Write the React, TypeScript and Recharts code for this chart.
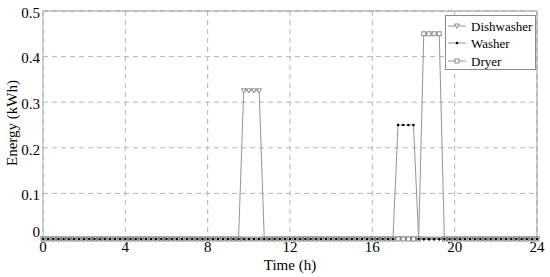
import React from 'react';
import { LineChart, Line, XAxis, YAxis, CartesianGrid, Legend, ReferenceLine } from 'recharts';

const hours = [
  0, 0.25, 0.5, 0.75, 1, 1.25, 1.5, 1.75,
  2, 2.25, 2.5, 2.75, 3, 3.25, 3.5, 3.75,
  4, 4.25, 4.5, 4.75, 5, 5.25, 5.5, 5.75,
  6, 6.25, 6.5, 6.75, 7, 7.25, 7.5, 7.75,
  8, 8.25, 8.5, 8.75, 9, 9.25, 9.5, 9.75,
  10, 10.25, 10.5, 10.75, 11, 11.25, 11.5, 11.75,
  12, 12.25, 12.5, 12.75, 13, 13.25, 13.5, 13.75,
  14, 14.25, 14.5, 14.75, 15, 15.25, 15.5, 15.75,
  16, 16.25, 16.5, 16.75, 17, 17.25, 17.5, 17.75,
  18, 18.25, 18.5, 18.75, 19, 19.25, 19.5, 19.75,
  20, 20.25, 20.5, 20.75, 21, 21.25, 21.5, 21.75,
  22, 22.25, 22.5, 22.75, 23, 23.25, 23.5, 23.75,
  24,
];

const dishwasher = [
  0, 0, 0, 0, 0, 0, 0, 0,
  0, 0, 0, 0, 0, 0, 0, 0,
  0, 0, 0, 0, 0, 0, 0, 0,
  0, 0, 0, 0, 0, 0, 0, 0,
  0, 0, 0, 0, 0, 0, 0, 0.325,
  0.325, 0.325, 0.325, 0, 0, 0, 0, 0,
  0, 0, 0, 0, 0, 0, 0, 0,
  0, 0, 0, 0, 0, 0, 0, 0,
  0, 0, 0, 0, 0, 0, 0, 0,
  0, 0, 0, 0, 0, 0, 0, 0,
  0, 0, 0, 0, 0, 0, 0, 0,
  0, 0, 0, 0, 0, 0, 0, 0,
  0,
];

const washer = [
  0, 0, 0, 0, 0, 0, 0, 0,
  0, 0, 0, 0, 0, 0, 0, 0,
  0, 0, 0, 0, 0, 0, 0, 0,
  0, 0, 0, 0, 0, 0, 0, 0,
  0, 0, 0, 0, 0, 0, 0, 0,
  0, 0, 0, 0, 0, 0, 0, 0,
  0, 0, 0, 0, 0, 0, 0, 0,
  0, 0, 0, 0, 0, 0, 0, 0,
  0, 0, 0, 0, 0, 0.25, 0.25, 0.25,
  0.25, 0, 0, 0, 0, 0, 0, 0,
  0, 0, 0, 0, 0, 0, 0, 0,
  0, 0, 0, 0, 0, 0, 0, 0,
  0,
];

const dryer = [
  0, 0, 0, 0, 0, 0, 0, 0,
  0, 0, 0, 0, 0, 0, 0, 0,
  0, 0, 0, 0, 0, 0, 0, 0,
  0, 0, 0, 0, 0, 0, 0, 0,
  0, 0, 0, 0, 0, 0, 0, 0,
  0, 0, 0, 0, 0, 0, 0, 0,
  0, 0, 0, 0, 0, 0, 0, 0,
  0, 0, 0, 0, 0, 0, 0, 0,
  0, 0, 0, 0, 0, 0, 0, 0,
  0, 0, 0.45, 0.45, 0.45, 0.45, 0, 0,
  0, 0, 0, 0, 0, 0, 0, 0,
  0, 0, 0, 0, 0, 0, 0, 0,
  0,
];

const xTicks = [0, 4, 8, 12, 16, 20, 24];
const yTicks = [0, 0.1, 0.2, 0.3, 0.4, 0.5];
const seriesNames = ['Dishwasher', 'Washer', 'Dryer'];
const xLabel = 'Time (h)';
const yLabel = 'Energy (kWh)';

const data = hours.map((t, i) => ({
  t,
  dishwasher: dishwasher[i],
  washer: washer[i],
  dryer: dryer[i],
}));

const FONT = 'Liberation Serif';
const LINE = '#959595';
const MARK = '#707070';

const Tri = ({ cx, cy }: any) => (
  <path
    d={`M${cx - 2.4},${cy - 2} L${cx + 2.4},${cy - 2} L${cx},${cy + 2.2} Z`}
    fill="#fff"
    stroke={MARK}
    strokeWidth={0.8}
  />
);
const Sq = ({ cx, cy }: any) => (
  <rect x={cx - 2} y={cy - 2} width={4} height={4} fill="#fff" stroke={MARK} strokeWidth={0.8} />
);
const Dot = ({ cx, cy }: any) => <circle cx={cx} cy={cy} r={1.3} fill="#000" stroke="none" />;

const markers = [Tri, Dot, Sq];

const T = ({ children, ...rest }: any) => (
  <text fontFamily={FONT} style={{ fontFamily: FONT }} fill="#000" {...rest}>
    {children}
  </text>
);

const YTick = (props: any) => {
  const { x, y, payload } = props;
  const v = payload.value;
  return (
    <T x={x} y={v === 0 ? y - 7 : y + 1.5} dy="0.35em" textAnchor="end" fontSize={15}>
      {String(v)}
    </T>
  );
};

const XTick = (props: any) => {
  const { x, y, payload } = props;
  return (
    <T x={x} y={y} dy="0.71em" textAnchor="middle" fontSize={15}>
      {String(payload.value)}
    </T>
  );
};

const LegendBox = () => (
  <svg width={91} height={55} style={{ display: 'block', fontFamily: FONT }}>
    <rect x={0.5} y={0.5} width={90} height={54} fill="#fff" stroke="#8a8a8a" strokeWidth={1} />
    {seriesNames.map((name, i) => {
      const y = [11, 28, 46][i];
      const M = markers[i];
      return (
        <g key={name}>
          <line x1={3} x2={21} y1={y} y2={y} stroke={LINE} strokeWidth={1} />
          <M cx={12} cy={y} />
          <T x={26} y={y} dy="0.35em" fontSize={13}>
            {name}
          </T>
        </g>
      );
    })}
  </svg>
);

const YLabel = (props: any) => {
  const vb = props.viewBox || { x: 0, y: 11, width: 43, height: 228 };
  const cx = vb.x + 12;
  const cy = vb.y + vb.height / 2 - 2;
  return (
    <T x={cx} y={cy} transform={`rotate(-90 ${cx} ${cy})`} textAnchor="middle" dy="0.35em" fontSize={15}>
      {yLabel}
    </T>
  );
};

const XLabel = (props: any) => {
  const vb = props.viewBox || { x: 43, y: 239, width: 494, height: 38 };
  const cx = vb.x + vb.width / 2;
  const cy = vb.y + 26;
  return (
    <T x={cx} y={cy} dy="0.35em" textAnchor="middle" fontSize={15}>
      {xLabel}
    </T>
  );
};

export default function App() {
  return (
    <div style={{ position: 'absolute', left: 0, top: 0, width: 550, height: 277, background: '#fff', fontFamily: FONT }}>
      <LineChart
        width={550}
        height={277}
        data={data}
        margin={{ top: 11, right: 13, left: 0, bottom: 0 }}
        style={{ fontFamily: FONT }}
      >
        <CartesianGrid strokeDasharray="5 4" stroke="#b4b4b4" strokeWidth={1} />
        <XAxis
          dataKey="t"
          type="number"
          domain={[0, 24]}
          ticks={xTicks}
          interval={0}
          tickLine={false}
          tickSize={0}
          tickMargin={2}
          height={38}
          axisLine={{ stroke: '#999' }}
          tick={XTick}
          label={{ content: XLabel }}
        />
        <YAxis
          type="number"
          domain={[0, 0.5]}
          ticks={yTicks}
          interval={0}
          tickLine={false}
          tickSize={0}
          tickMargin={3}
          width={43}
          axisLine={{ stroke: '#aaa' }}
          tick={YTick}
          label={{ content: YLabel }}
        />
        <ReferenceLine y={0.5} stroke="#999" strokeWidth={1} />
        <ReferenceLine x={24} stroke="#999" strokeWidth={1} />
        <Line
          type="linear"
          dataKey="dishwasher"
          name={seriesNames[0]}
          stroke={LINE}
          strokeWidth={1}
          isAnimationActive={false}
          dot={(p: any) => <Tri key={`d${p.index}`} cx={p.cx} cy={p.cy} />}
          activeDot={false}
        />
        <Line
          type="linear"
          dataKey="dryer"
          name={seriesNames[2]}
          stroke={LINE}
          strokeWidth={1}
          isAnimationActive={false}
          dot={(p: any) => <Sq key={`s${p.index}`} cx={p.cx} cy={p.cy} />}
          activeDot={false}
        />
        <Line
          type="linear"
          dataKey="washer"
          name={seriesNames[1]}
          stroke={LINE}
          strokeWidth={1}
          isAnimationActive={false}
          dot={(p: any) => <Dot key={`w${p.index}`} cx={p.cx} cy={p.cy} />}
          activeDot={false}
        />
        <Legend
          layout="horizontal"
          verticalAlign="middle"
          align="center"
          width={91}
          wrapperStyle={{ left: 445, top: 15, width: 91, height: 55 }}
          content={() => <LegendBox />}
        />
      </LineChart>
    </div>
  );
}
